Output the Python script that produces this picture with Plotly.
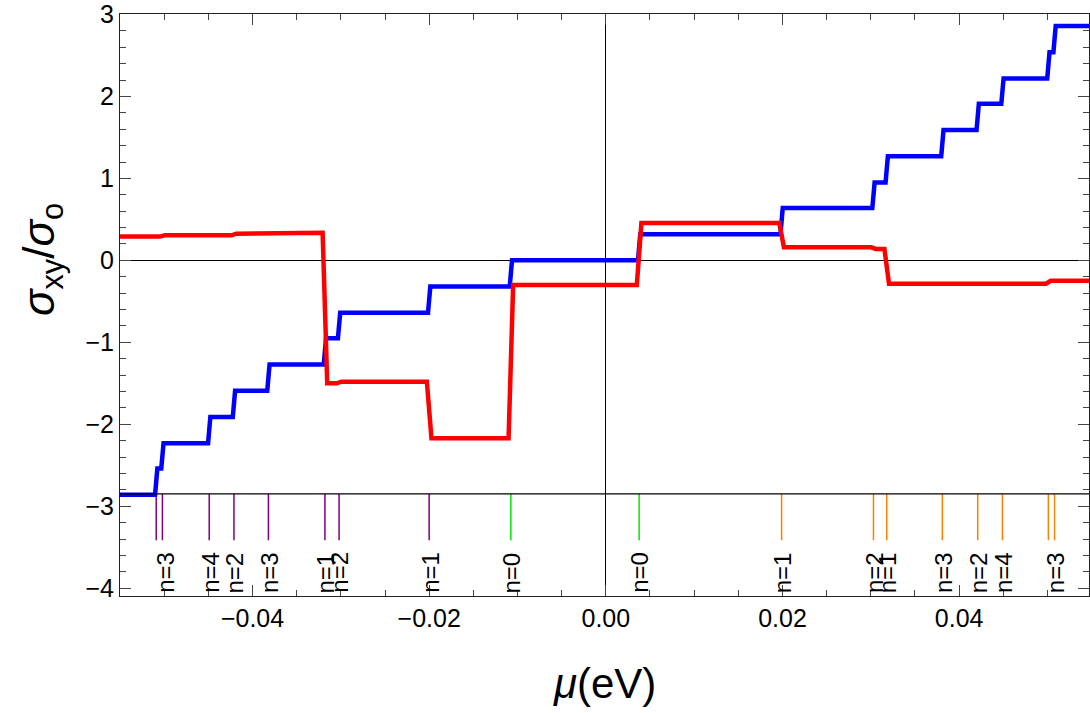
import plotly.graph_objects as go

# ---------------- data ----------------
MU_RANGE = [-0.0550, 0.0547]
Y_RANGE = [-4.095, 3.006]

# blue curve: step positions (eV) and plateau levels
BLUE_STEPS = [-0.0509, -0.0502, -0.0449, -0.0421, -0.0382, -0.0318, -0.0302, -0.0200,
              -0.01075, 0.00377, 0.0199, 0.0303, 0.0318, 0.0381, 0.0421, 0.0449, 0.0501, 0.0508]
BLUE_LEVELS = [-2.86, -2.54, -2.23, -1.91, -1.59, -1.27, -0.95, -0.64, -0.32, 0.0,
               0.32, 0.64, 0.95, 1.27, 1.59, 1.91, 2.22, 2.54, 2.86]

# red curve: step positions (eV) and plateau levels
RED_STEPS = [-0.0502, -0.0421, -0.0382, -0.0318, -0.0302, -0.0200, -0.01075,
             0.00377, 0.0199, 0.0303, 0.0318, 0.0501]
RED_LEVELS = [0.29, 0.305, 0.325, 0.337, -1.50, -1.48, -2.17, -0.30,
              0.455, 0.16, 0.14, -0.285, -0.25]

# Landau-level marker lines
BASELINE = -2.85
TICK_BOTTOM = -3.415
PURPLE_LEVELS = [-0.0509, -0.0502, -0.0449, -0.0421, -0.0382, -0.0318, -0.0302, -0.0200]
GREEN_LEVELS = [-0.01075, 0.00377]
ORANGE_LEVELS = [0.0199, 0.0303, 0.0318, 0.0381, 0.0421, 0.0449, 0.0501, 0.0508]

# level labels
LABEL_MU = [-0.0500, -0.0449, -0.0421, -0.0382, -0.0318, -0.0302, -0.0200,
            -0.01075, 0.00377, 0.0199, 0.0303, 0.0318, 0.0381, 0.0421, 0.0449, 0.0508]
LABEL_TEXT = ["n=3", "n=4", "n=2", "n=3", "n=1", "n=2", "n=1",
              "n=0", "n=0", "n=1", "n=2", "n=1", "n=3", "n=2", "n=4", "n=3"]
LABEL_Y = -3.81

X_TICK0, X_DTICK = 0.0, 0.02
Y_TICK0, Y_DTICK = 0, 1

FONT = "Liberation Sans, Arial, sans-serif"


def step_path(steps, levels, hw, x0, x1):
    xs, ys = [x0], [levels[0]]
    for s, a, b in zip(steps, levels[:-1], levels[1:]):
        xs += [s - hw, s + hw]
        ys += [a, b]
    xs.append(x1)
    ys.append(levels[-1])
    return xs, ys


def segs(positions, y0, y1):
    xs, ys = [], []
    for p in positions:
        xs += [p, p, None]
        ys += [y0, y1, None]
    return xs, ys


fig = go.Figure()

for pos, col in [(PURPLE_LEVELS, "rgb(128,0,128)"), (GREEN_LEVELS, "rgb(0,230,0)"),
                 (ORANGE_LEVELS, "rgb(255,128,0)")]:
    xs, ys = segs(pos, BASELINE, TICK_BOTTOM)
    fig.add_trace(go.Scatter(x=xs, y=ys, mode="lines", line=dict(color=col, width=1.5),
                             showlegend=False, hoverinfo="skip"))

fig.add_hline(y=BASELINE, line_color="black", line_width=1.2)

bx, by = step_path(BLUE_STEPS, BLUE_LEVELS, 0.00013, MU_RANGE[0], MU_RANGE[1])
rx, ry = step_path(RED_STEPS, RED_LEVELS, 0.00026, MU_RANGE[0], MU_RANGE[1])
fig.add_trace(go.Scatter(x=bx, y=by, mode="lines", line=dict(color="#0000ff", width=4.5),
                         showlegend=False))
fig.add_trace(go.Scatter(x=rx, y=ry, mode="lines", line=dict(color="#ff0000", width=4.5),
                         showlegend=False))

for mu, t in zip(LABEL_MU, LABEL_TEXT):
    fig.add_annotation(x=mu, y=LABEL_Y, xref="x", yref="y", text=t, textangle=-90,
                       showarrow=False, xanchor="center", yanchor="middle", xshift=1,
                       font=dict(family=FONT, size=24, color="black"))

fig.add_annotation(xref="paper", yref="paper", x=0.5, y=-0.151, text="<i>μ</i>(eV)",
                   showarrow=False, xanchor="center", yanchor="middle",
                   font=dict(family=FONT, size=42, color="black"))
fig.add_annotation(xref="paper", yref="paper", x=-0.081, y=0.578,
                   text="<i>σ</i><sub>xy</sub>/<i>σ</i><sub>o</sub>", textangle=-90,
                   showarrow=False, xanchor="center", yanchor="middle",
                   font=dict(family=FONT, size=44, color="black"))

axis_common = dict(showgrid=False, ticks="inside", tickcolor="#444", tickwidth=1,
                   ticklen=11, showline=True, linecolor="#222", linewidth=1, mirror="ticks",
                   zeroline=True, zerolinecolor="black", zerolinewidth=1.2,
                   tickfont=dict(family=FONT, size=25, color="black"))

fig.update_xaxes(range=MU_RANGE, tickmode="linear", tick0=X_TICK0, dtick=X_DTICK,
                 tickformat=".2f",
                 minor=dict(dtick=0.005, tick0=0, ticks="inside", ticklen=6,
                            tickcolor="#444", showgrid=False),
                 **axis_common)
fig.update_yaxes(range=Y_RANGE, tickmode="linear", tick0=Y_TICK0, dtick=Y_DTICK,
                 minor=dict(dtick=0.2, tick0=0, ticks="inside", ticklen=6,
                            tickcolor="#444", showgrid=False),
                 **axis_common)

fig.update_layout(width=1090, height=713, margin=dict(l=120, r=1, t=14, b=117),
                  plot_bgcolor="white", paper_bgcolor="white",
                  font=dict(family=FONT))

fig.write_html("out.html")
